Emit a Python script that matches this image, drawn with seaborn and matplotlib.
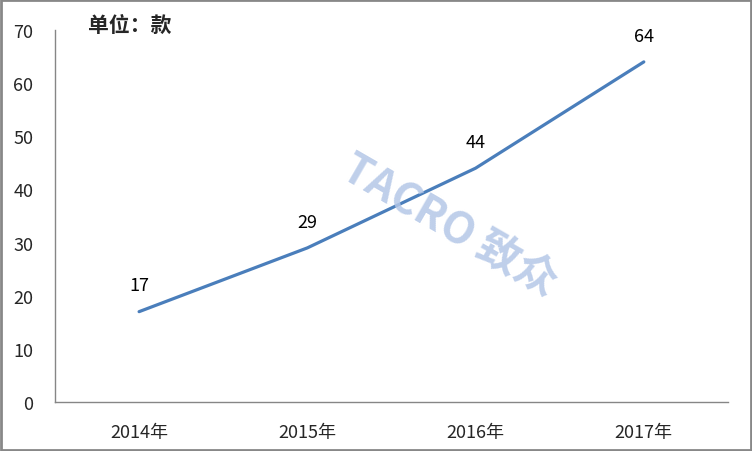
import matplotlib
matplotlib.use("Agg")
import matplotlib.pyplot as plt
import seaborn as sns
import pandas as pd
from matplotlib.patches import Rectangle

years = ["2014年", "2015年", "2016年", "2017年"]
counts = [17, 29, 44, 64]
y_ticks = [0, 10, 20, 30, 40, 50, 60, 70]

sns.set_style("white")
plt.rcParams['font.family'] = ['Noto Sans CJK SC', 'DejaVu Sans']

df = pd.DataFrame({"year": years, "count": counts})

fig = plt.figure(figsize=(7.52, 4.52), dpi=100)
ax = fig.add_axes([0.0731, 0.1084, 0.8949, 0.823])

sns.lineplot(data=df, x="year", y="count", ax=ax, color="#4a7ebb",
             linewidth=2.3, sort=False)

# data labels
for i, v in enumerate(counts):
    ax.annotate(str(v), (i, v), xytext=(0, 19), textcoords="offset points",
                ha="center", va="center", fontsize=13, color="black")

ax.set_ylim(0, 70)
ax.set_xlim(-0.5, len(years) - 0.5)
ax.set_yticks(y_ticks)
ax.set_xticks(range(len(years)))
ax.set_xticklabels(years)
ax.set_xticks([i - 0.5 for i in range(len(years) + 1)], minor=True)
ax.tick_params(axis="x", which="major", length=0, pad=15, labelsize=13)
ax.tick_params(axis="x", which="minor", length=4.5, color="#868686", direction="out")
ax.tick_params(axis="y", length=4.5, color="#868686", direction="out", pad=11, labelsize=13)
ax.set_xlabel("")
ax.set_ylabel("")

for s in ["top", "right"]:
    ax.spines[s].set_visible(False)
for s in ["left", "bottom"]:
    ax.spines[s].set_color("#868686")
    ax.spines[s].set_linewidth(1)

ax.text(0.049, 1.016, "单位：款", transform=ax.transAxes, fontsize=15,
        fontweight="bold", ha="left", va="center")

# watermark
fig.text(0.598, 0.5, "TACRO 致众", fontsize=31, fontweight="bold",
         color="#b4c7e7", alpha=0.85, rotation=-30, ha="center", va="center",
         zorder=0)

# outer border
fig.patches.append(Rectangle((0.0013, 0.0022), 0.9974, 0.9956, transform=fig.transFigure,
                             fill=False, edgecolor="#888888", linewidth=2))

fig.savefig("out.png", dpi=100)
